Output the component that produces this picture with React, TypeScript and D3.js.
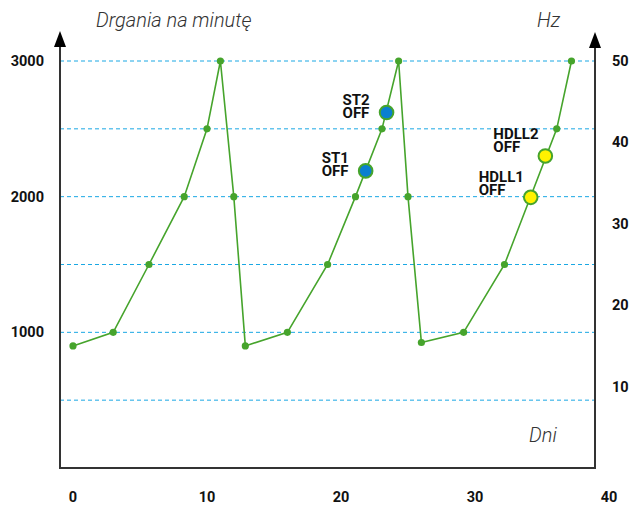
import React from "react";
import * as d3 from "d3";

const days = [0, 3, 5.67, 8.3, 10, 11, 12, 12.86, 16, 19, 21.08, 23.06, 24.3, 25, 26, 29.15, 32.2, 36.1, 37.2];
const values = [900, 1000, 1500, 2000, 2500, 3000, 2000, 900, 1000, 1500, 2000, 2500, 3000, 2000, 925, 1000, 1500, 2500, 3000];

const markerLabels = ["ST1", "ST2", "HDLL1", "HDLL2"];
const markerDays = [21.84, 23.4, 34.16, 35.25];
const markerValues = [2190, 2620, 1995, 2300];
const markerKinds = ["blue", "blue", "yellow", "yellow"];

const xTicks = [0, 10, 20, 30, 40];
const yTicks = [1000, 2000, 3000];
const gridValues = [500, 1000, 1500, 2000, 2500, 3000];
const hzTicks = [10, 20, 30, 40, 50];

const W = 632;
const H = 506;

export default function App() {
  const x = d3.scaleLinear().domain([0, 40]).range([73, 609]);
  const y = d3.scaleLinear().domain([0, 3000]).range([468, 61]);
  const yHz = d3.scaleLinear().domain([0, 50]).range([468, 61]);

  const left = 60;
  const right = 595;
  const bottom = 468;

  const pts = days.map((d, i) => [x(d), y(values[i])] as [number, number]);
  const line = d3.line()(pts) as string;

  const green = "#46a42c";
  const grid = "#1aa8e4";
  const axisColor = "#333";
  const font = "Roboto, 'Open Sans', sans-serif";

  // label offsets (relative to marker) - layout only
  const labelPos = [
    { dx: -44, dy1: -8 },
    { dx: -44, dy1: -8 },
    { dx: -52, dy1: -15 },
    { dx: -52, dy1: -16.5 },
  ];

  return (
    <svg width={W} height={H} style={{ display: "block", position: "absolute", left: 0, top: 0 }}>
      <rect width={W} height={H} fill="#fff" />
      {/* gridlines */}
      {gridValues.map((v) => (
        <line key={v} x1={left} x2={right} y1={y(v)} y2={y(v)} stroke={grid} strokeWidth={1} strokeDasharray="4 3" />
      ))}
      {/* axes */}
      <line x1={left} x2={left} y1={bottom + 1} y2={40} stroke={axisColor} strokeWidth={2} />
      <line x1={right} x2={right} y1={bottom + 1} y2={40} stroke={axisColor} strokeWidth={2} />
      <line x1={left - 1} x2={right + 1} y1={bottom} y2={bottom} stroke={axisColor} strokeWidth={2} />
      <path d={`M${left},31 L${left - 6},47 L${left + 6},47 Z`} fill="#000" />
      <path d={`M${right},32 L${right - 6},48 L${right + 6},48 Z`} fill="#000" />

      {/* line */}
      <path d={line} fill="none" stroke={green} strokeWidth={1.6} />
      {pts.map((p, i) => (
        <circle key={i} cx={p[0]} cy={p[1]} r={3.6} fill={green} />
      ))}

      {/* markers */}
      {markerDays.map((d, i) => {
        const cx = x(d);
        const cy = y(markerValues[i]);
        const lp = labelPos[i];
        return (
          <g key={i}>
            <circle cx={cx} cy={cy} r={6.8} fill={markerKinds[i] === "blue" ? "#0a7fd0" : "#fff200"} stroke={green} strokeWidth={2} />
            <text x={cx + lp.dx} y={cy + lp.dy1} textAnchor="start" fontFamily={font} fontWeight={700} fontSize={15} fill="#111">
              <tspan x={cx + lp.dx}>{markerLabels[i]}</tspan>
              <tspan x={cx + lp.dx} dy={13}>OFF</tspan>
            </text>
          </g>
        );
      })}

      {/* left tick labels */}
      {yTicks.map((v) => (
        <text key={v} x={44} y={y(v) + 5} textAnchor="end" fontFamily={font} fontWeight={700} fontSize={14.5} fill="#111">
          {v}
        </text>
      ))}
      {/* right tick labels */}
      {hzTicks.map((v) => (
        <text key={v} x={612} y={yHz(v) + 5} textAnchor="start" fontFamily={font} fontWeight={700} fontSize={14.5} fill="#111">
          {v}
        </text>
      ))}
      {/* bottom tick labels */}
      {xTicks.map((v) => (
        <text key={v} x={x(v)} y={502} textAnchor="middle" fontFamily={font} fontWeight={700} fontSize={14.5} fill="#111">
          {v}
        </text>
      ))}

      {/* titles */}
      <text x={96} y={27} fontFamily={font} fontStyle="italic" fontWeight={300} fontSize={20} fill="#333">
        Drgania na minutę
      </text>
      <text x={537} y={27} fontFamily={font} fontStyle="italic" fontWeight={300} fontSize={20} fill="#333">
        Hz
      </text>
      <text x={529} y={442} fontFamily={font} fontStyle="italic" fontWeight={300} fontSize={20} fill="#333">
        Dni
      </text>
    </svg>
  );
}
